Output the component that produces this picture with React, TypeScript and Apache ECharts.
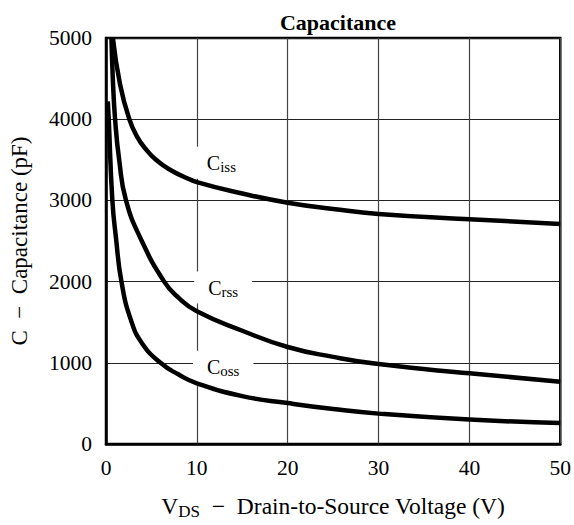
import React, { useEffect, useRef } from "react";
import * as echarts from "echarts";

const xTicks = [0, 10, 20, 30, 40, 50];
const yTicks = [0, 1000, 2000, 3000, 4000, 5000];

const cissData: [number, number][] = [
  [0.76, 5000], [1.55, 4427], [2.57, 4000], [3.45, 3780], [4.4, 3630], [5.5, 3500], [7, 3380],
  [8.5, 3295], [10, 3225], [15, 3085], [20, 2972], [25, 2895], [30, 2833], [40, 2768], [50, 2710],
];
const crssData: [number, number][] = [
  [0.6, 5000], [0.75, 4500], [1.0, 4000], [1.45, 3500], [2.2, 3000], [3.9, 2510],
  [6.4, 2000], [8, 1800], [10, 1635], [15, 1395], [20, 1195], [25, 1073], [30, 984],
  [40, 870], [50, 768],
];
const cossData: [number, number][] = [
  [0.2, 4220], [0.3, 4000], [0.7, 3000], [1.1, 2537], [1.7, 2000], [2.75, 1524],
  [4.0, 1235], [6.0, 1000], [8, 855], [10, 748], [15, 590], [20, 504], [25, 431],
  [30, 374], [40, 301], [50, 258],
];

const curveLabels = [
  { main: "C", sub: "iss", at: [12.7, 3463] },
  { main: "C", sub: "rss", at: [12.9, 1927] },
  { main: "C", sub: "oss", at: [12.9, 951] },
];

const FONT = "'Liberation Serif', 'Times New Roman', serif";

export default function App() {
  const ref = useRef<HTMLDivElement>(null);
  useEffect(() => {
    document.body.style.margin = "0";
    const chart = echarts.init(ref.current!, undefined, { renderer: "svg" });
    const lineSeries = (name: string, data: [number, number][]) => ({
      name,
      type: "line",
      data,
      showSymbol: false,
      smooth: 0.5,
      lineStyle: { color: "#000", width: 4.5 },
      z: 5,
    });
    chart.setOption({
      animation: false,
      title: {
        text: "Capacitance",
        left: 333,
        textAlign: "center",
        top: 6,
        textStyle: { fontFamily: FONT, fontSize: 22, fontWeight: "bold", color: "#000" },
      },
      grid: {
        left: 103,
        right: 11,
        top: 38,
        bottom: 77,
        show: true,
        borderColor: "#000",
        borderWidth: 2.5,
        backgroundColor: "transparent",
      },
      xAxis: {
        type: "value",
        min: xTicks[0],
        max: xTicks[xTicks.length - 1],
        interval: 10,
        name: "{v|V}{s|DS}{t|  −  Drain-to-Source Voltage (V)}",
        nameLocation: "middle",
        nameGap: 48,
        nameTextStyle: {
          rich: {
            v: { fontFamily: FONT, fontSize: 23.5, color: "#000", lineHeight: 28 },
            s: { fontFamily: FONT, fontSize: 17, color: "#000", lineHeight: 14, verticalAlign: "bottom" },
            t: { fontFamily: FONT, fontSize: 23.5, color: "#000", lineHeight: 28 },
          },
        },
        axisLine: { show: true, lineStyle: { color: "#000", width: 2.5 } },
        axisTick: { show: false },
        axisLabel: {
          fontFamily: FONT,
          fontSize: 21.5,
          color: "#000",
          margin: 13,
          formatter: (v: number) => String(v),
        },
        splitLine: { show: true, lineStyle: { color: "#444", width: 1.2 } },
      },
      yAxis: {
        type: "value",
        min: yTicks[0],
        max: yTicks[yTicks.length - 1],
        interval: 1000,
        name: "C  −  Capacitance (pF)",
        nameLocation: "middle",
        nameGap: 75,
        nameTextStyle: { fontFamily: FONT, fontSize: 23, color: "#000" },
        axisLine: { show: true, lineStyle: { color: "#000", width: 2.5 } },
        axisTick: { show: false },
        axisLabel: {
          fontFamily: FONT,
          fontSize: 21.5,
          color: "#000",
          margin: 14,
          formatter: (v: number) => String(v),
        },
        splitLine: { show: true, lineStyle: { color: "#222", width: 1 } },
      },
      series: [
        lineSeries("Ciss", cissData),
        lineSeries("Crss", crssData),
        lineSeries("Coss", cossData),
      ],
    });
    const graphic = curveLabels.map((l) => {
      const p = chart.convertToPixel({ gridIndex: 0 }, l.at) as number[];
      return {
        type: "text",
        x: p[0],
        y: p[1],
        z: 3,
        style: {
          text: `{m|${l.main}}{s|${l.sub}}`,
          align: "center",
          verticalAlign: "middle",
          backgroundColor: "#fff",
          padding: [4, 14, 4, 14],
          rich: {
            m: { fontFamily: FONT, fontSize: 20, fill: "#000", lineHeight: 24 },
            s: { fontFamily: FONT, fontSize: 15, fill: "#000", lineHeight: 14, verticalAlign: "bottom" },
          },
        },
      };
    });
    chart.setOption({ graphic });
    return () => chart.dispose();
  }, []);
  return <div ref={ref} style={{ width: 574, height: 525 }} />;
}
